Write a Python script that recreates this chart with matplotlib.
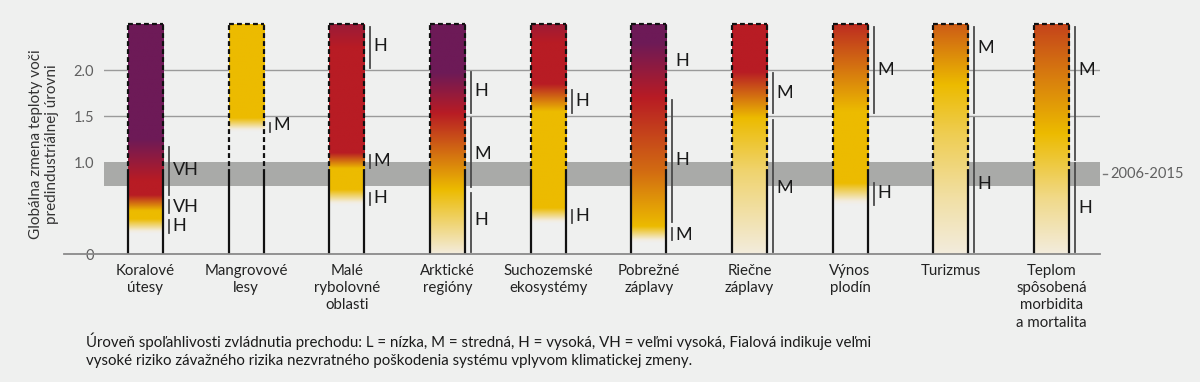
import numpy as np
import matplotlib.pyplot as plt
from matplotlib.colors import to_rgba

plt.rcParams['font.family'] = ['Lato', 'DejaVu Sans']

categories = ["Koralové\nútesy", "Mangrovové\nlesy", "Malé\nrybolovné\noblasti",
              "Arktické\nregióny", "Suchozemské\nekosystémy", "Pobrežné\nzáplavy",
              "Riečne\nzáplavy", "Výnos\nplodín", "Turizmus",
              "Teplom\nspôsobená\nmorbidita\na mortalita"]

# ember transitions: temperature (°C) -> risk level
# (0 none, 1 moderate/yellow, 2 high/red, 3 very high/purple)
koral_t = [0.22, 0.38, 0.47, 0.64, 0.80, 1.25]
koral_r = [0, 1, 1, 2, 2, 3]
mangrove_t = [1.33, 1.48]
mangrove_r = [0, 1]
male_t = [0.53, 0.70, 0.93, 1.10, 2.25, 2.5]
male_r = [0, 1, 1, 2, 2, 2.4]
arkt_t = [0.0, 0.70, 1.53, 1.97]
arkt_r = [0.2, 1, 2, 3]
such_t = [0.33, 0.50, 1.55, 1.85, 2.3, 2.5]
such_r = [0, 1, 1, 2, 2, 2.35]
pobr_t = [0.12, 0.30, 0.90, 1.70, 2.30]
pobr_r = [0, 1, 1.5, 2, 3]
riec_t = [0.0, 0.90, 1.48, 1.98]
riec_r = [0.2, 0.6, 1, 2]
vynos_t = [0.53, 0.77, 1.55, 2.5]
vynos_r = [0, 1, 1, 1.9]
tur_t = [0.0, 0.60, 1.30, 1.84, 2.5]
tur_r = [0.2, 0.4, 0.7, 1, 1.6]
tep_t = [0.0, 0.60, 1.31, 2.5]
tep_r = [0.2, 0.5, 1, 1.75]

# confidence of transitions: (from, to, label position, level)
koral_conf = [(0.64, 1.16, 0.91, "VH"), (0.45, 0.59, 0.51, "VH"), (0.23, 0.37, 0.30, "H")]
mangrove_conf = [(1.33, 1.42, 1.40, "M")]
male_conf = [(2.02, 2.47, 2.26, "H"), (0.93, 1.08, 1.01, "M"), (0.53, 0.66, 0.61, "H")]
arkt_conf = [(1.53, 1.98, 1.77, "H"), (0.73, 1.48, 1.09, "M"), (0.02, 0.66, 0.37, "H")]
such_conf = [(1.53, 1.78, 1.66, "H"), (0.34, 0.48, 0.41, "H")]
pobr_conf = [(2.10, 2.10, 2.10, "H"), (0.35, 1.67, 1.02, "H"), (0.15, 0.28, 0.21, "M")]
riec_conf = [(1.53, 1.97, 1.75, "M"), (0.02, 1.46, 0.72, "M")]
vynos_conf = [(1.53, 2.47, 2.00, "M"), (0.53, 0.77, 0.66, "H")]
tur_conf = [(1.53, 2.47, 2.24, "M"), (0.02, 1.48, 0.76, "H")]
tep_conf = [(1.02, 2.47, 2.00, "M"), (0.02, 0.99, 0.50, "H")]

ember_top = 2.5
observed = 0.87            # 2006-2015 mean
observed_band = (0.74, 1.0)
yticks = [0, 1.0, 1.5, 2.0]
ytick_labels = ["0", "1.0", "1.5", "2.0"]

footnote = ("Úroveň spoľahlivosti zvládnutia prechodu: L = nízka, M = stredná, H = vysoká, "
            "VH = veľmi vysoká, Fialová indikuje veľmi\n"
            "vysoké riziko závažného rizika nezvratného poškodenia systému vplyvom klimatickej zmeny.")

embers = [(koral_t, koral_r), (mangrove_t, mangrove_r), (male_t, male_r), (arkt_t, arkt_r),
          (such_t, such_r), (pobr_t, pobr_r), (riec_t, riec_r), (vynos_t, vynos_r),
          (tur_t, tur_r), (tep_t, tep_r)]
confs = [koral_conf, mangrove_conf, male_conf, arkt_conf, such_conf, pobr_conf,
         riec_conf, vynos_conf, tur_conf, tep_conf]

# colour ramp for risk level
lvl = [0.0, 0.2, 1.0, 2.0, 3.0]
ramp = np.array([to_rgba('#f4efe4', 0.0), to_rgba('#f3ecdd'), to_rgba('#ecbb00'),
                 to_rgba('#b81c24'), to_rgba('#6d1a57')])


def ember_image(temps, levels, n=500):
    t = np.linspace(0, ember_top, n)
    r = np.interp(t, temps, levels)
    img = np.stack([np.interp(r, lvl, ramp[:, k]) for k in range(4)], axis=-1)
    return img[:, None, :]


bg = '#eff0ef'
fig = plt.figure(figsize=(12, 3.82), dpi=100, facecolor=bg)
ax = fig.add_axes([104 / 1200, 128 / 382, 996 / 1200, 254 / 382])
ax.set_facecolor(bg)
for s in ax.spines.values():
    s.set_visible(False)

w = 0.348
xs = np.arange(len(categories))

ax.axhspan(*observed_band, color='#a9aaa8', lw=0, zorder=1)
for y in [1.5, 2.0]:
    ax.axhline(y, color='#9a9a9a', lw=1.0, zorder=0.5)

for x, (temps, levels), conf in zip(xs, embers, confs):
    ax.imshow(ember_image(temps, levels), extent=[x - w / 2, x + w / 2, 0, ember_top],
              origin='lower', aspect='auto', interpolation='bilinear', zorder=2)
    for ex in (x - w / 2, x + w / 2):
        ax.plot([ex, ex], [0, observed], color='#111111', lw=1.6, zorder=3,
                solid_capstyle='butt')
        ax.plot([ex, ex], [observed, ember_top], color='#111111', lw=1.6, zorder=3,
                linestyle=(0, (2.2, 1.4)))
    ax.plot([x - w / 2, x + w / 2], [ember_top, ember_top], color='#111111', lw=1.6,
            zorder=3, linestyle=(0, (2.2, 1.4)))
    cx = x + w / 2 + 0.06
    for lo, hi, ly, lab in conf:
        if hi > lo:
            ax.plot([cx, cx], [lo, hi], color='#4a4a4a', lw=1.3, zorder=3)
        ax.text(cx + 0.035, ly, lab, fontsize=13, color='#1a1a1a', va='center',
                ha='left', zorder=4)

ax.set_xlim(-0.412, 9.483)
ax.set_ylim(0, 254 / 92)

ax.plot([-0.04, 1], [0, 0], transform=ax.get_yaxis_transform(), color='#8a8a8a',
        lw=1.3, clip_on=False, zorder=3)

ax.set_yticks(yticks)
ax.set_yticklabels(ytick_labels, fontsize=10.5, color='#606060')
ax.tick_params(axis='y', length=0, pad=7)
ax.set_xticks(xs)
ax.set_xticklabels(categories, fontsize=10.8, color='#222222', linespacing=1.3, va='top')
ax.tick_params(axis='x', length=0, pad=7)

# 2006-2015 label
ax.plot([1.003, 1.007], [observed, observed], transform=ax.get_yaxis_transform(),
        color='#777777', lw=1, clip_on=False)
ax.text(1.01, observed, "2006-2015", transform=ax.get_yaxis_transform(), fontsize=10.5,
        color='#606060', va='center', ha='left')

fig.text(44 / 1200, 1 - 144 / 382, "Globálna zmena teploty voči\npredindustriálnej úrovni",
         rotation=90, ha='center', va='center', fontsize=11, color='#333333',
         linespacing=1.25)

fig.text(86 / 1200, 1 - 350 / 382, footnote, ha='left', va='center', fontsize=10.8,
         color='#1a1a1a', linespacing=1.4)

fig.savefig('out.png', dpi=100, facecolor=bg)
